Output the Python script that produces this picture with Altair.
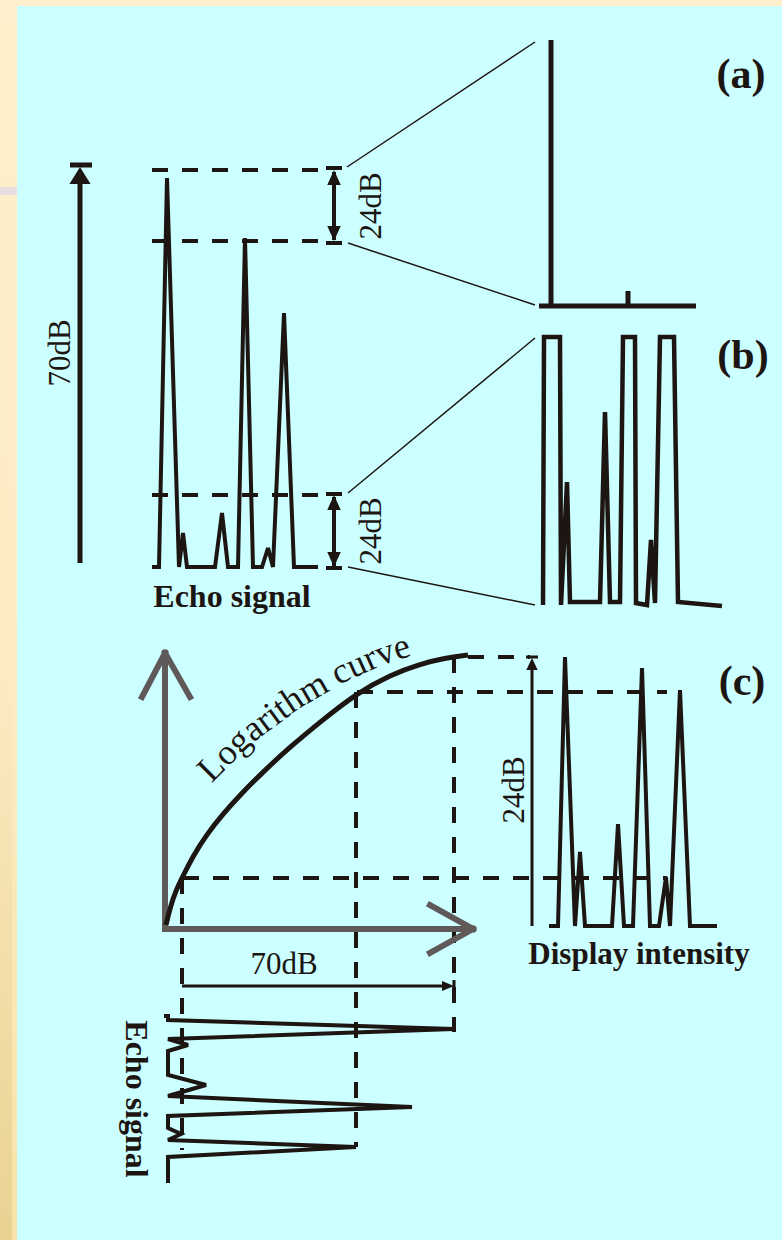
import math
import altair as alt
import numpy as np
import pandas as pd

W, H = 782, 1240
INK = "#1c1512"
GRAY = "#5f5959"
SERIF = "Liberation Serif"

# ---------------- data (diagram coordinates, y grows downward) ----------------
echo_top_x = [152, 159, 167, 179, 183, 187, 215, 222, 228, 238, 245, 253, 262, 268, 273, 284, 294, 318]
echo_top_y = [567, 567, 178, 567, 533, 567, 567, 513, 567, 567, 238, 567, 567, 548, 567, 313, 567, 567]

panel_a_x = [539, 551, 551, 551, 628, 628, 628, 696]
panel_a_y = [306, 306, 40, 306, 306, 291, 306, 306]

panel_b_x = [543, 544, 560, 561, 567, 570, 600, 605, 610, 620, 623, 635, 636, 647, 651, 655, 660, 674, 678, 722]
panel_b_y = [605, 337, 337, 605, 482, 602, 602, 412, 602, 602, 337, 337, 603, 605, 540, 603, 337, 337, 602, 606]

display_x = [549, 558, 565, 575, 580, 585, 612, 618, 624, 633, 642, 650, 659, 666, 670, 680, 690, 717]
display_y = [926, 926, 657, 926, 852, 926, 926, 824, 926, 926, 668, 926, 926, 877, 926, 690, 926, 926]

echo_rot_x = [164, 168, 168, 454, 168, 188, 168, 168, 206, 168, 412, 168, 168, 181, 168, 356, 168, 168]
echo_rot_y = [1016, 1016, 1020, 1029, 1039, 1045, 1051, 1075, 1085, 1096, 1107, 1116, 1128, 1134, 1140, 1147, 1157, 1183]

log_x = [166, 170, 176, 183, 193, 207, 223, 240, 265, 290, 320, 357, 390, 420, 445, 468]
log_y = [925, 908, 890, 876, 856, 834, 814, 795, 770, 747, 722, 693, 675, 664, 658, 655]

dash_x1 = [152, 152, 152, 183, 357, 468, 182, 356, 454]
dash_y1 = [170, 241, 495, 878, 692, 657, 878, 692, 657]
dash_x2 = [322, 322, 322, 667, 667, 530, 182, 356, 454]
dash_y2 = [170, 241, 495, 878, 692, 657, 1150, 1147, 1032]

conn_x1 = [347, 348, 348, 348]
conn_y1 = [167, 243, 493, 567]
conn_x2 = [535, 535, 535, 535]
conn_y2 = [42, 305, 338, 605]

gray_x1 = [165, 165, 165, 165, 473, 473]
gray_y1 = [929, 653, 653, 929, 929, 929]
gray_x2 = [165, 142, 190, 473, 430, 430]
gray_y2 = [653, 697, 697, 929, 905, 953]

# arrow shafts and end caps: thick (70 dB), medium (24 dB), thin (display / bracket)
thick_x1 = [80, 70]
thick_y1 = [563, 165]
thick_x2 = [80, 92]
thick_y2 = [180, 165]

mid_x1 = [334, 326, 326, 334, 326, 326]
mid_y1 = [172, 168, 243, 497, 494, 568]
mid_x2 = [334, 342, 342, 334, 342, 342]
mid_y2 = [240, 168, 243, 566, 494, 568]

thin_x1 = [532, 526, 182, 454]
thin_y1 = [926, 657, 986, 980]
thin_x2 = [532, 538, 449, 454]
thin_y2 = [662, 657, 986, 993]

head_big_up = {"x": [80], "y": [175.5]}
head_mid_up = {"x": [334, 334], "y": [177.5, 502.5]}
head_mid_down = {"x": [334, 334], "y": [233.5, 559.5]}
head_small_up = {"x": [532], "y": [664]}
head_small_right = {"x": [448], "y": [986]}

# curved label: text and the baseline it follows
curve_text = "Logarithm curve"
curve_base_x = [203, 250, 300, 345, 385, 424]
curve_base_y = [792, 745, 708, 682, 664, 652]
CURVE_FONT = 36

bold_labels = ["(a)", "(b)", "(c)", "Echo signal", "Display intensity"]
bold_lx = [741, 743, 742, 232, 639]
bold_ly = [75, 356, 682, 597, 955]
bold_size = [42, 42, 42, 32, 31]

rot_labels = ["70dB", "24dB", "24dB", "24dB"]
rot_lx = [61, 371.5, 371.5, 514.5]
rot_ly = [353, 206, 531, 790]

# ---------------- helpers ----------------
X = lambda f="x": alt.X(f"{f}:Q", scale=alt.Scale(domain=[0, W], nice=False, zero=False), axis=None)
Y = lambda f="y": alt.Y(f"{f}:Q", scale=alt.Scale(domain=[0, H], nice=False, zero=False, reverse=True), axis=None)


def poly(xs, ys):
    return pd.DataFrame({"x": xs, "y": ys, "i": list(range(len(xs)))})


def line_layer(xs, ys, width, color=INK, **kw):
    kw.setdefault("strokeJoin", "miter")
    kw.setdefault("strokeMiterLimit", 2.5)
    return alt.Chart(poly(xs, ys)).mark_line(color=color, strokeWidth=width, **kw).encode(
        x=X(), y=Y(), order="i:Q"
    )


def rule_layer(x1, y1, x2, y2, width, color=INK, **kw):
    df = pd.DataFrame({"x": x1, "y": y1, "x2": x2, "y2": y2})
    return alt.Chart(df).mark_rule(color=color, strokeWidth=width, **kw).encode(
        x=X(), y=Y(), x2="x2:Q", y2="y2:Q"
    )


def head_layer(pts, shape, size):
    return alt.Chart(pd.DataFrame(pts)).mark_point(
        shape=shape, size=size, filled=True, color=INK, opacity=1, strokeWidth=0
    ).encode(x=X(), y=Y())


def rect_layer(x, y, x2, y2, color):
    return alt.Chart(pd.DataFrame({"x": [x], "y": [y], "x2": [x2], "y2": [y2]})).mark_rect(
        color=color
    ).encode(x=X(), y=Y(), x2="x2:Q", y2="y2:Q")


def text_on_path(text, px, py, font_size):
    """Place each glyph of `text` along the baseline polyline (layout only)."""
    em = {"L": .611, "o": .5, "g": .5, "a": .444, "r": .333, "i": .278, "t": .278, "h": .5,
          "m": .778, " ": .25, "c": .444, "u": .5, "v": .5, "e": .444}
    px, py = np.asarray(px, float), np.asarray(py, float)
    seg = np.hypot(np.diff(px), np.diff(py))
    cum = np.concatenate([[0], np.cumsum(seg)])
    widths = [em.get(ch, .5) * font_size for ch in text]
    total = sum(widths)
    s = max(0.0, (cum[-1] - total) / 2)
    rows = []
    for ch, w in zip(text, widths):
        c = s + w / 2
        x = np.interp(c, cum, px)
        y = np.interp(c, cum, py)
        xa, ya = np.interp(c - 10, cum, px), np.interp(c - 10, cum, py)
        xb, yb = np.interp(c + 10, cum, px), np.interp(c + 10, cum, py)
        ang = math.degrees(math.atan2(yb - ya, xb - xa)) % 360
        if ch != " ":
            rows.append({"x": x, "y": y, "t": ch, "a": ang})
        s += w
    return pd.DataFrame(rows)


# ---------------- background ----------------
strip_grad = alt.Gradient(
    gradient="linear",
    stops=[
        alt.GradientStop(color="#FFEFCC", offset=0),
        alt.GradientStop(color="#FCEBC2", offset=0.55),
        alt.GradientStop(color="#E9D292", offset=1),
    ],
    x1=0, x2=0, y1=0, y2=1,
)
edge_grad = alt.Gradient(
    gradient="linear",
    stops=[
        alt.GradientStop(color="#FFEFCC", offset=0),
        alt.GradientStop(color="#FDEBC4", offset=0.55),
        alt.GradientStop(color="#F8E4A8", offset=1),
    ],
    x1=0, x2=0, y1=0, y2=1,
)

layers = [
    rect_layer(17, 6, W, H, "#CCFFFF"),
    rect_layer(0, 0, 12, H, strip_grad),
    rect_layer(12, 0, 17, H, edge_grad),
    rect_layer(0, 187, 17, 195, "#E6E0E0"),
]

# ---------------- drawing layers ----------------
layers.append(rule_layer(dash_x1, dash_y1, dash_x2, dash_y2, 4, strokeDash=[16, 14]))
layers.append(rule_layer(conn_x1, conn_y1, conn_x2, conn_y2, 1.5))
layers.append(rule_layer(gray_x1, gray_y1, gray_x2, gray_y2, 6, color=GRAY, strokeCap="square"))

layers.append(line_layer(echo_top_x, echo_top_y, 4))
layers.append(line_layer(panel_a_x, panel_a_y, 5))
layers.append(line_layer(panel_b_x, panel_b_y, 4.5))
layers.append(line_layer(display_x, display_y, 4))
layers.append(line_layer(echo_rot_x, echo_rot_y, 4))
layers.append(line_layer(log_x, log_y, 5, interpolate="basis", strokeJoin="round"))

layers.append(rule_layer(thick_x1, thick_y1, thick_x2, thick_y2, 5))
layers.append(rule_layer(mid_x1, mid_y1, mid_x2, mid_y2, 4))
layers.append(rule_layer(thin_x1, thin_y1, thin_x2, thin_y2, 3))

layers.append(head_layer(head_big_up, "M0,-1L1.24,1L-1.24,1Z", 289))
layers.append(head_layer(head_mid_up, "M0,-1L0.9,1L-0.9,1Z", 225))
layers.append(head_layer(head_mid_down, "M0,1L0.9,-1L-0.9,-1Z", 225))
layers.append(head_layer(head_small_up, "M0,-1L0.95,1L-0.95,1Z", 144))
layers.append(head_layer(head_small_right, "M1,0L-1,0.85L-1,-0.85Z", 144))

# ---------------- text ----------------
bold_df = pd.DataFrame({"x": bold_lx, "y": bold_ly, "t": bold_labels, "size": bold_size})
layers.append(
    alt.Chart(bold_df).mark_text(font=SERIF, fontWeight="bold", color=INK, baseline="middle", align="center")
    .encode(x=X(), y=Y(), text="t:N", size=alt.Size("size:Q", scale=None, legend=None))
)

rot_df = pd.DataFrame({"x": rot_lx, "y": rot_ly, "t": rot_labels})
layers.append(
    alt.Chart(rot_df).mark_text(font=SERIF, fontSize=31, color=INK, angle=270, baseline="middle", align="center")
    .encode(x=X(), y=Y(), text="t:N")
)

layers.append(
    alt.Chart(pd.DataFrame({"x": [284], "y": [965], "t": ["70dB"]}))
    .mark_text(font=SERIF, fontSize=31, color=INK, baseline="middle", align="center")
    .encode(x=X(), y=Y(), text="t:N")
)

layers.append(
    alt.Chart(pd.DataFrame({"x": [136], "y": [1099], "t": ["Echo signal"]}))
    .mark_text(font=SERIF, fontSize=32, fontWeight="bold", color=INK, angle=90, baseline="middle", align="center")
    .encode(x=X(), y=Y(), text="t:N")
)

curve_df = text_on_path(curve_text, curve_base_x, curve_base_y, CURVE_FONT)
layers.append(
    alt.Chart(curve_df).mark_text(font=SERIF, fontSize=CURVE_FONT, color=INK, baseline="alphabetic", align="center")
    .encode(x=X(), y=Y(), text="t:N", angle=alt.Angle("a:Q", scale=None))
)

chart = alt.layer(*layers).properties(
    width=W, height=H, background="#FFEFCC", padding=0, autosize=alt.AutoSizeParams(type="none")
).configure_view(stroke=None)

chart.save("out.html", embed_options={"renderer": "svg", "actions": False})
